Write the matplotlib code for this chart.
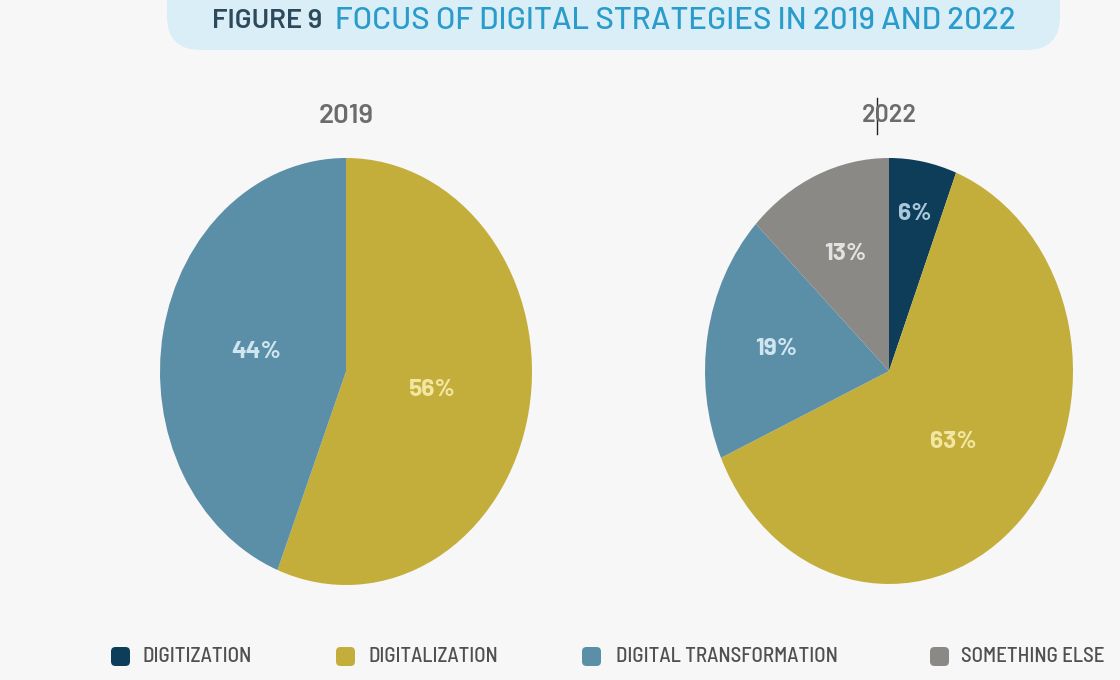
import numpy as np
import matplotlib.pyplot as plt
from matplotlib.patches import FancyBboxPatch

# --- data ---
categories = ['DIGITIZATION', 'DIGITALIZATION', 'DIGITAL TRANSFORMATION', 'SOMETHING ELSE']
colors = ['#0e3d59', '#c4ae3b', '#5b8fa8', '#8b8985']
label_colors = ['#a9c8dc', '#f2e6a2', '#cfe5f0', '#e2e2e2']

years = ['2019', '2022']
share_2019 = [0, 56, 44, 0]
share_2022 = [6, 63, 19, 13]
# distance of each % label from the centre (fraction of radius)
pct_dist_2019 = [0.5, 0.47, 0.49, 0.5]
pct_dist_2022 = [0.75, 0.48, 0.62, 0.6]

title_a = 'FIGURE 9'
title_b = 'FOCUS OF DIGITAL STRATEGIES IN 2019 AND 2022'

wide = ['Barlow', 'DejaVu Sans']
narrow = ['Barlow Semi Condensed', 'DejaVu Sans']
plt.rcParams['font.family'] = wide

fig = plt.figure(figsize=(11.2, 6.8), dpi=100)
fig.patch.set_facecolor('#f7f7f7')
W, H = 1120, 680
renderer = fig.canvas.get_renderer()


def fx(px):
    return px / W


def fy(py):
    return 1 - py / H


def fit(t, width):
    # scale font size so the text spans `width` pixels
    w = t.get_window_extent(renderer).width
    t.set_fontsize(t.get_fontsize() * width / w)
    return t


# title box
box = FancyBboxPatch((fx(167), fy(50)), fx(1060) - fx(167), fy(-30) - fy(50),
                     boxstyle='round,pad=0,rounding_size=0.03',
                     transform=fig.transFigure, facecolor='#daeef7',
                     edgecolor='none', mutation_aspect=W / H)
fig.patches.append(box)
fit(fig.text(fx(212), fy(21), title_a, fontsize=20, color='#2c4a5c',
             fontweight=600, va='center', ha='left'), 110)
fit(fig.text(fx(335), fy(21), title_b, fontsize=20, color='#2a9ccc',
             fontweight=500, va='center', ha='left'), 680)


def draw_pie(rect, values, dists):
    ax = fig.add_axes(rect)
    vals = [v for v in values if v > 0]
    cols = [c for v, c in zip(values, colors) if v > 0]
    lcols = [c for v, c in zip(values, label_colors) if v > 0]
    ds = [d for v, d in zip(values, dists) if v > 0]
    wedges, _ = ax.pie(vals, colors=cols, startangle=90, counterclock=False,
                       radius=1, wedgeprops=dict(linewidth=0))
    ax.set_aspect('auto')
    ax.set_xlim(-1, 1)
    ax.set_ylim(-1, 1)
    ax.axis('off')
    for w, v, d, lc in zip(wedges, vals, ds, lcols):
        ang = np.deg2rad((w.theta1 + w.theta2) / 2)
        ax.text(d * np.cos(ang), d * np.sin(ang), f'{v}%', color=lc,
                fontsize=pct_size, fontweight='bold', ha='center', va='center')
    return ax


probe = fit(fig.text(0, 0, '44%', fontsize=15, fontweight='bold'), 50)
pct_size = probe.get_fontsize()
probe.remove()

ax1 = draw_pie([fx(160), fy(585), fx(532) - fx(160), fy(158) - fy(585)],
               share_2019, pct_dist_2019)
ax2 = draw_pie([fx(705), fy(584), fx(1073) - fx(705), fy(158) - fy(584)],
               share_2022, pct_dist_2022)

for yr, cx in zip(years, [346, 889]):
    fit(fig.text(fx(cx), fy(116), yr, fontsize=19, color='#6c6c6c',
                 fontweight=600, ha='center', va='center'), 55)
# stray cursor mark in the 2022 heading
fig.lines.append(plt.Line2D([fx(877), fx(877)], [fy(98), fy(134)],
                            transform=fig.transFigure, color='#222222', lw=1))

# legend
sq_x = [111, 336, 582, 930]
txt_x = [143, 368, 616, 961]
txt_w = [110, 130, 222, 144]
for c, lab, sx, tx, tw in zip(colors, categories, sq_x, txt_x, txt_w):
    fig.patches.append(FancyBboxPatch(
        (fx(sx), fy(666)), fx(19), fy(647) - fy(666),
        boxstyle='round,pad=0,rounding_size=0.004', mutation_aspect=W / H,
        transform=fig.transFigure, facecolor=c, edgecolor='none'))
    fit(fig.text(fx(tx), fy(657), lab, fontsize=15, color='#505050',
                 family=narrow, fontweight=500, ha='left', va='center'), tw)

fig.savefig('out.png', dpi=100, facecolor=fig.get_facecolor())
